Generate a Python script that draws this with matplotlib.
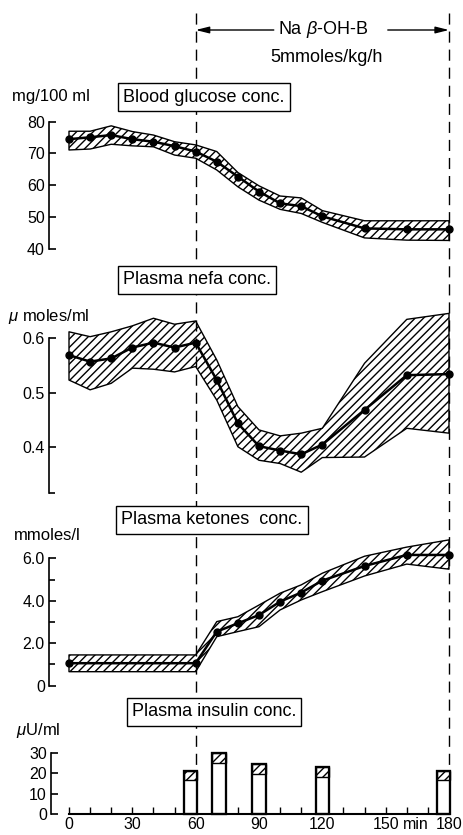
import matplotlib
matplotlib.use("Agg")
import matplotlib.pyplot as plt
import numpy as np

plt.rcParams['font.family'] = ['Liberation Sans', 'DejaVu Sans']
plt.rcParams['mathtext.fontset'] = 'custom'
plt.rcParams['mathtext.it'] = 'Liberation Sans:italic'
plt.rcParams['mathtext.rm'] = 'Liberation Sans'
plt.rcParams['hatch.linewidth'] = 1.0

# ---------------- data ----------------
gluc_t = [0, 10, 20, 30, 40, 50, 60, 70, 80, 90, 100, 110, 120, 140, 160, 180]
gluc_mean = [74.5, 75.1, 75.8, 74.5, 73.7, 72.3, 70.6, 67.4, 62.7, 58.0, 54.3, 53.4, 50.2, 46.4, 46.1, 46.1]
gluc_hi = [77.0, 77.0, 78.7, 76.9, 75.8, 73.7, 72.7, 70.6, 64.0, 59.8, 56.6, 56.0, 52.0, 48.8, 48.8, 48.8]
gluc_lo = [71.1, 71.4, 72.9, 72.4, 72.1, 69.5, 68.5, 64.8, 59.5, 55.3, 52.4, 51.1, 48.3, 43.4, 42.7, 42.6]

nefa_t = [0, 10, 20, 30, 40, 50, 60, 70, 80, 90, 100, 110, 120, 140, 160, 180]
nefa_mean = [0.569, 0.557, 0.563, 0.583, 0.592, 0.583, 0.592, 0.523, 0.443, 0.401, 0.393, 0.386, 0.404, 0.468, 0.532, 0.534]
nefa_hi = [0.612, 0.603, 0.612, 0.623, 0.637, 0.626, 0.632, 0.560, 0.474, 0.431, 0.420, 0.425, 0.434, 0.554, 0.635, 0.646]
nefa_lo = [0.523, 0.505, 0.517, 0.545, 0.543, 0.538, 0.548, 0.486, 0.400, 0.375, 0.369, 0.353, 0.380, 0.381, 0.434, 0.425]

ket_t = [0, 60, 70, 80, 90, 100, 110, 120, 140, 160, 180]
ket_mean = [1.06, 1.06, 2.55, 2.94, 3.33, 3.96, 4.39, 4.95, 5.64, 6.16, 6.16]
ket_hi = [1.45, 1.45, 3.02, 3.25, 3.80, 4.36, 4.75, 5.30, 6.10, 6.53, 6.87]
ket_lo = [0.66, 0.66, 2.31, 2.55, 2.78, 3.57, 4.04, 4.43, 5.17, 5.73, 5.49]

ins_x = [57.5, 71, 90, 120, 177.5]
ins_top = [21.3, 29.8, 24.6, 23.3, 21.3]
ins_mean = [16.8, 25.0, 19.7, 18.3, 16.9]

x_ticks = [0, 30, 60, 90, 120, 150, 180]
x_ticklabels = ['0', '30', '60', '90', '120', '150', '180']
x_unit = 'min'
infusion = [60, 180]

gluc_ticks = [40, 50, 60, 70, 80]
nefa_ticks = [0.4, 0.5, 0.6]
nefa_ticklabels = ['0.4', '0.5', '0.6']
ket_ticks = [0, 2, 4, 6]
ket_ticklabels = ['0', '2.0', '4.0', '6.0']
ins_ticks = [0, 10, 20, 30]

# ---------------- layout ----------------
W, H = 464, 835
fig = plt.figure(figsize=(W / 100, H / 100), dpi=100)

XL, XR = 40, 460
X0PX, XSC = 69.0, 380.0 / 180.0
xlim = ((XL - X0PX) / XSC, (XR - X0PX) / XSC)
SPINE_X = -9.5

def make_ax(top, bottom, ylim):
    ax = fig.add_axes([XL / W, 1 - bottom / H, (XR - XL) / W, (bottom - top) / H])
    ax.set_xlim(*xlim)
    ax.set_ylim(*ylim)
    ax.patch.set_visible(False)
    for s in ['top', 'right', 'bottom']:
        ax.spines[s].set_visible(False)
    ax.spines['left'].set_position(('data', SPINE_X))
    ax.spines['left'].set_linewidth(1.2)
    ax.tick_params(axis='y', direction='in', length=5, width=1.2, labelsize=11.5, pad=3)
    ax.tick_params(axis='y', which='minor', direction='in', length=4, width=1.2)
    ax.set_xticks([])
    return ax

def band(ax, t, lo, hi, mean):
    ax.fill_between(t, lo, hi, facecolor='white', edgecolor='black', hatch='////', linewidth=1.0, zorder=2)
    ax.plot(t, mean, color='black', lw=1.8, marker='o', ms=5, zorder=3)

# Glucose
ax1 = make_ax(110, 255, (38.02, 83.69))
band(ax1, gluc_t, gluc_lo, gluc_hi, gluc_mean)
ax1.set_yticks(gluc_ticks)
ax1.spines['left'].set_bounds(40, 80)

# Nefa
ax2 = make_ax(300, 500, (0.3017, 0.6707))
band(ax2, nefa_t, nefa_lo, nefa_hi, nefa_mean)
ax2.set_yticks(nefa_ticks)
ax2.set_yticklabels(nefa_ticklabels)
ax2.set_yticks([0.315], minor=True)
ax2.spines['left'].set_bounds(0.315, 0.6)

# Ketones
ax3 = make_ax(535, 695, (-0.438, 7.10))
band(ax3, ket_t, ket_lo, ket_hi, ket_mean)
ax3.set_yticks(ket_ticks)
ax3.set_yticklabels(ket_ticklabels)
ax3.set_yticks([1, 3, 5], minor=True)
ax3.spines['left'].set_bounds(0, 6)

# Insulin
ax4 = make_ax(745, 820, (-2.95, 33.94))
ax4.spines['left'].set_position(('data', -8.5))
ax4.bar(ins_x, ins_top, width=6.3, facecolor='white', edgecolor='black', linewidth=1.5, zorder=2)
ax4.bar(ins_x, np.array(ins_top) - np.array(ins_mean), bottom=ins_mean, width=6.3,
        facecolor='white', edgecolor='black', hatch='////', linewidth=1.0, zorder=3)
ax4.bar(ins_x, ins_top, width=6.3, facecolor='none', edgecolor='black', linewidth=1.6, zorder=4)
ax4.set_yticks(ins_ticks)
ax4.spines['left'].set_bounds(0, 30)
ax4.spines['bottom'].set_visible(True)
ax4.spines['bottom'].set_position(('data', 0))
ax4.spines['bottom'].set_bounds(0, 180)
ax4.spines['bottom'].set_linewidth(1.5)
ax4.set_xticks(x_ticks)
ax4.set_xticklabels(x_ticklabels)
ax4.set_xticks(np.arange(0, 181, 10), minor=True)
LABPAD = 2
ax4.tick_params(axis='x', which='both', direction='in', length=5, width=1.0, labelsize=11.5, pad=LABPAD)
trans, va, _ = ax4.get_xaxis_text1_transform(LABPAD)
ax4.text(158, 0, x_unit, transform=trans, va=va, ha='left', fontsize=11.5)

# ---------------- overlay annotations ----------------
ov = fig.add_axes([XL / W, 0, (XR - XL) / W, 1])
ov.set_xlim(*xlim)
ov.set_ylim(H, 0)
ov.axis('off')
ov.patch.set_visible(False)
for xv in infusion:
    ov.plot([xv, xv], [13, 768], color='black', lw=1.0, ls=(0, (8, 5)), zorder=1)

ov.annotate('', xy=(infusion[0], 30), xytext=(97, 30),
            arrowprops=dict(arrowstyle='-|>,head_length=0.8,head_width=0.2', color='black', lw=1.0, shrinkA=0, shrinkB=0))
ov.annotate('', xy=(infusion[1], 30), xytext=(151, 30),
            arrowprops=dict(arrowstyle='-|>,head_length=0.8,head_width=0.2', color='black', lw=1.0, shrinkA=0, shrinkB=0))
ov.text(120.5, 30, 'Na $\\mathit{\\beta}$-OH-B', ha='center', va='center', fontsize=13)
ov.text(122, 57, '5mmoles/kg/h', ha='center', va='center', fontsize=13)

def ptxt(x, y, s, **kw):
    fig.text(x / W, 1 - y / H, s, **kw)

box = dict(boxstyle='square,pad=0.28', facecolor='white', edgecolor='black', lw=1.0)
ptxt(204, 97, 'Blood glucose conc.', ha='center', va='center', fontsize=13, bbox=box)
ptxt(197, 280, 'Plasma nefa conc.', ha='center', va='center', fontsize=13, bbox=box)
ptxt(212, 520, 'Plasma ketones  conc.', ha='center', va='center', fontsize=13, bbox=box)
ptxt(214, 712, 'Plasma insulin conc.', ha='center', va='center', fontsize=13, bbox=box)

ptxt(12, 97, 'mg/100 ml', ha='left', va='center', fontsize=12)
ptxt(8, 316, '$\\mu$ moles/ml', ha='left', va='center', fontsize=12)
ptxt(14, 535, 'mmoles/l', ha='left', va='center', fontsize=12)
ptxt(16, 730, '$\\mu$U/ml', ha='left', va='center', fontsize=12)

fig.savefig('out.png', dpi=100)
